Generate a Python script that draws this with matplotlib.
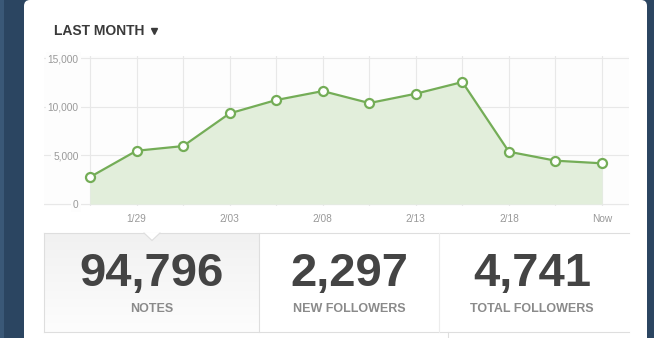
import numpy as np
import matplotlib
matplotlib.use('Agg')
import matplotlib.pyplot as plt
from matplotlib.patches import FancyBboxPatch, Rectangle, Polygon

plt.rcParams['font.family'] = ['Liberation Sans', 'DejaVu Sans']

# chart data
notes = [2770, 5470, 5950, 9310, 10680, 11600, 10370, 11330, 12530, 5370, 4450, 4180]
tick_labels = ['', '1/29', '', '2/03', '', '2/08', '', '2/13', '', '2/18', '', 'Now']
y_ticks = [0, 5000, 10000, 15000]
y_tick_labels = ['0', '5,000', '10,000', '15,000']

stat_values = ['94,796', '2,297', '4,741']
stat_names = ['NOTES', 'NEW FOLLOWERS', 'TOTAL FOLLOWERS']

W, H = 654, 338
navy = '#2b4561'
green = '#74ad57'
fill_green = '#e2eedb'
grid_c = '#e8e8e8'
dark = '#444444'

fig = plt.figure(figsize=(W / 100, H / 100), dpi=100, facecolor=navy)

# background layer in pixel coords
bg = fig.add_axes([0, 0, 1, 1])
bg.set_xlim(0, W)
bg.set_ylim(H, 0)
bg.axis('off')
bg.add_patch(Rectangle((0, 0), 4, H, color='#3a5877', lw=0))
bg.add_patch(FancyBboxPatch((24, 0), 623, H + 20, boxstyle='round,pad=0,rounding_size=6',
                            fc='white', ec='none'))

# header
bg.text(54, 31, 'LAST MONTH', fontsize=10, fontweight='bold', color='#3a3a3a', va='center')
bg.plot([154], [30.5], marker='v', ms=4.2, color='#3a3a3a')

# stat boxes
grad = np.linspace(0, 1, 100).reshape(-1, 1)
bg.imshow(grad, cmap=matplotlib.colors.LinearSegmentedColormap.from_list('g', ['#f1f1f1', '#fdfdfd']),
          extent=[44, 259, 332, 233], aspect='auto', zorder=1)
line_kw = dict(color='#dedede', lw=0.8, zorder=3)
bg.plot([44, 629], [233, 233], **line_kw)
bg.plot([44, 629], [332, 332], **line_kw)
bg.plot([44, 44], [233, 332], **line_kw)
bg.plot([259, 259], [233, 332], **line_kw)
bg.plot([439, 439], [233, 332], color='#ececec', lw=0.8, zorder=3)
bg.plot([448, 448], [332, H], **line_kw)
bg.add_patch(Polygon([[144, 232.6], [152, 240.5], [160, 232.6]], closed=True, fc='white',
                     ec='none', zorder=4))
bg.plot([144, 152, 160], [233, 240.5, 233], color='#dedede', lw=0.8, zorder=5)

centers = [152, 349, 532]
for cx, val, name in zip(centers, stat_values, stat_names):
    bg.text(cx, 286, val, fontsize=34, fontweight='bold', color=dark, ha='center', va='baseline', zorder=6)
    bg.text(cx, 311.5, name, fontsize=9, fontweight='bold', color='#8a8a8a', ha='center',
            va='baseline', zorder=6)

# chart
x = np.arange(len(notes))
px_per_x = (602 - 90) / 11
left_px, right_px = 44, 629
top_px, bot_px = 56, 206
ppu = (204 - 58) / 15000
ax = fig.add_axes([left_px / W, 1 - bot_px / H, (right_px - left_px) / W, (bot_px - top_px) / H])
ax.set_facecolor('#fdfdfd')
ax.set_xlim((left_px - 90) / px_per_x, (right_px - 90) / px_per_x)
ax.set_ylim(-2 / ppu, 15000 + 2 / ppu)
for s in ax.spines.values():
    s.set_visible(False)
ax.set_axisbelow(True)
ax.set_xticks(x)
ax.set_xticklabels(tick_labels)
ax.set_yticks(y_ticks)
ax.set_yticklabels(y_tick_labels)
ax.grid(True, color=grid_c, lw=0.8)
ax.tick_params(axis='x', length=0, pad=6, labelsize=7.3, labelcolor='#999999')
ax.tick_params(axis='y', length=0, pad=-25, labelsize=7.3, labelcolor='#999999')
for lbl in ax.get_yticklabels():
    lbl.set_bbox(dict(fc='#fdfdfd', ec='none', pad=1.5))

ax.fill_between(x, notes, 0, color=fill_green, lw=0, zorder=2)
ax.plot(x, notes, color=green, lw=1.6, marker='o', ms=6.5, mfc='white', mec=green, mew=1.6,
        zorder=4, clip_on=False)

fig.savefig('out.png', dpi=100, facecolor=navy)
